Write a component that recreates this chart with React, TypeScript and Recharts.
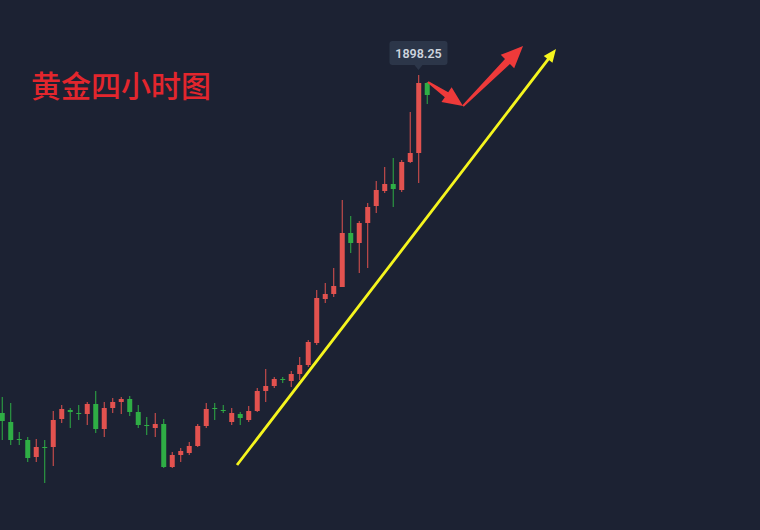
import React from 'react';
import { ComposedChart, Bar, XAxis, YAxis, ReferenceLine, ReferenceDot } from 'recharts';

const BG = '#1c2233';
const UP = '#e2524f';
const DOWN = '#2fae45';

// 4H candles (oldest first)
const opens = [
  1813.75, 1811.5, 1807.25, 1807, 1802.75, 1805.25, 1805.25, 1812.25, 1814.5, 1813.75,
  1813.5, 1816, 1809.75, 1815, 1816.5, 1817.25, 1814, 1810.75, 1810, 1811,
  1800.25, 1803.25, 1803.75, 1805.5, 1810.5, 1815, 1814.5, 1811.5, 1813.5, 1812,
  1814.25, 1819.25, 1820.5, 1822.25, 1821.75, 1823.5, 1825.75, 1831.25, 1842.25, 1843.5,
  1845.25, 1858.75, 1856.25, 1861.25, 1865.5, 1869.25, 1871, 1869.5, 1876.5, 1878.75,
  1896.25,
];
const highs = [
  1817.75, 1816.25, 1809, 1807.75, 1807.25, 1807, 1814.25, 1815.75, 1815, 1815.75,
  1816.5, 1819.25, 1816.5, 1817.5, 1817.75, 1818, 1815.75, 1812.75, 1813.75, 1812.25,
  1804, 1805, 1806.5, 1811, 1816.25, 1816.25, 1815.75, 1815, 1814, 1815.5,
  1820, 1824.75, 1822.75, 1822.75, 1824.25, 1827.75, 1832, 1844.5, 1846.25, 1850,
  1867, 1863, 1861.75, 1866.25, 1871.75, 1875.25, 1877.5, 1877, 1889, 1898.25,
  1896.5,
];
const lows = [
  1807, 1805.75, 1805.75, 1801.5, 1801.5, 1796.25, 1800.5, 1811.25, 1810, 1812,
  1810.75, 1808.75, 1807.75, 1813.75, 1813.5, 1813, 1810, 1808.25, 1807.75, 1800,
  1800, 1801.5, 1803.25, 1805.25, 1810, 1812, 1813.75, 1810.75, 1810.75, 1811.5,
  1814, 1816.5, 1820, 1821.25, 1820.25, 1822, 1825.25, 1830.75, 1841.25, 1842.75,
  1845.25, 1853.75, 1848.75, 1850, 1863.75, 1868.75, 1865.25, 1869, 1876.25, 1871.25,
  1891,
];
const closes = [
  1811.75, 1807, 1807.1, 1802.5, 1805.25, 1805, 1812, 1814.75, 1814, 1813.5,
  1816, 1809.75, 1815, 1816.5, 1817.25, 1814, 1810.75, 1810.5, 1811, 1800.25,
  1803.25, 1804.25, 1805.5, 1810.5, 1814.75, 1814.75, 1814.25, 1813.75, 1812.5, 1814.25,
  1819.25, 1820.5, 1822.25, 1822, 1823.5, 1825.75, 1831.5, 1842.5, 1843.5, 1845.5,
  1858.75, 1856.25, 1861.25, 1865.25, 1869.5, 1871, 1869.75, 1876.5, 1878.75, 1896.25,
  1893.25,
];

// annotations in chart units: [candle index, price]
const trendLine = [[27.65, 1800.75], [65.18, 1904.75]];
const dipArrow = [[50.12, 1896.5], [54.24, 1890.5]];
const riseArrow = [[54.24, 1890.5], [61.3, 1905.5]];
const peakIndex = 49;
const peakPrice = 1898.25;

const data = opens.map((o, i) => ({ i, open: o, high: highs[i], low: lows[i], close: closes[i] }));

const Candle = (props: any) => {
  const { x, y, width, height, payload } = props;
  const { open, close, high, low } = payload;
  const color = close >= open ? UP : DOWN;
  const ratio = height / (high - low || 1);
  const top = y + (high - Math.max(open, close)) * ratio;
  const bot = y + (high - Math.min(open, close)) * ratio;
  const cx = x + width / 2;
  return (
    <g>
      <line x1={cx} x2={cx} y1={y} y2={y + height} stroke={color} strokeWidth={1} />
      <rect x={x} y={top} width={width} height={Math.max(1, bot - top)} fill={color} />
    </g>
  );
};

function arrowShape(color: string, sw: number, ew: number, headLen: number, headW: number) {
  return (p: any) => {
    const { x1, y1, x2, y2 } = p;
    const len = Math.hypot(x2 - x1, y2 - y1) || 1;
    const ux = (x2 - x1) / len;
    const uy = (y2 - y1) / len;
    const nx = -uy;
    const ny = ux;
    const bx = x2 - ux * headLen;
    const by = y2 - uy * headLen;
    const pts = [
      [x1 + nx * sw / 2, y1 + ny * sw / 2],
      [bx + nx * ew / 2, by + ny * ew / 2],
      [bx + nx * headW / 2, by + ny * headW / 2],
      [x2, y2],
      [bx - nx * headW / 2, by - ny * headW / 2],
      [bx - nx * ew / 2, by - ny * ew / 2],
      [x1 - nx * sw / 2, y1 - ny * sw / 2],
    ];
    return <polygon points={pts.map((q) => q.join(',')).join(' ')} fill={color} />;
  };
}

const PeakLabel = (p: any) => {
  const { cx, cy } = p;
  return (
    <g>
      <rect x={cx - 29} y={cy - 34} width={58} height={24} rx={3} fill="#2c3649" />
      <polygon points={`${cx - 4},${cy - 10} ${cx + 4},${cy - 10} ${cx},${cy - 5}`} fill="#2c3649" />
      <text x={cx} y={cy - 17.5} textAnchor="middle" fontSize={12.5} fontWeight={600} fill="#cdd3dd" fontFamily="Roboto, 'DejaVu Sans', sans-serif">
        {peakPrice.toFixed(2)}
      </text>
    </g>
  );
};

export default function App() {
  return (
    <div style={{ position: 'absolute', left: 0, top: 0, width: 760, height: 530, background: BG, overflow: 'hidden' }}>
      <div
        style={{
          position: 'absolute',
          left: 31,
          top: 68,
          color: '#e3262d',
          fontSize: 30,
          lineHeight: '32px',
          fontFamily: "'Noto Sans CJK SC', sans-serif",
          fontWeight: 500,
          zIndex: 2,
        }}
      >
        黄金四小时图
      </div>
      <ComposedChart width={760} height={530} data={data} margin={{ top: 0, right: 0, bottom: 0, left: 0 }}>
        <XAxis type="number" dataKey="i" domain={[-0.235, 89.18]} hide allowDataOverflow />
        <YAxis type="number" domain={[1784.5, 1917]} hide allowDataOverflow />
        <Bar dataKey={(d: any) => [d.low, d.high]} barSize={5} shape={Candle} isAnimationActive={false} />
        <ReferenceLine
          segment={[{ x: trendLine[0][0], y: trendLine[0][1] }, { x: trendLine[1][0], y: trendLine[1][1] }]}
          shape={arrowShape('#f5f51e', 2.8, 2.8, 13, 11)}
        />
        <ReferenceLine
          segment={[{ x: dipArrow[0][0], y: dipArrow[0][1] }, { x: dipArrow[1][0], y: dipArrow[1][1] }]}
          shape={arrowShape('#ee3a3a', 2, 6, 20, 18)}
        />
        <ReferenceLine
          segment={[{ x: riseArrow[0][0], y: riseArrow[0][1] }, { x: riseArrow[1][0], y: riseArrow[1][1] }]}
          shape={arrowShape('#ee3a3a', 2, 7, 22, 19)}
        />
        <ReferenceDot x={peakIndex} y={peakPrice} shape={PeakLabel} />
      </ComposedChart>
    </div>
  );
}
